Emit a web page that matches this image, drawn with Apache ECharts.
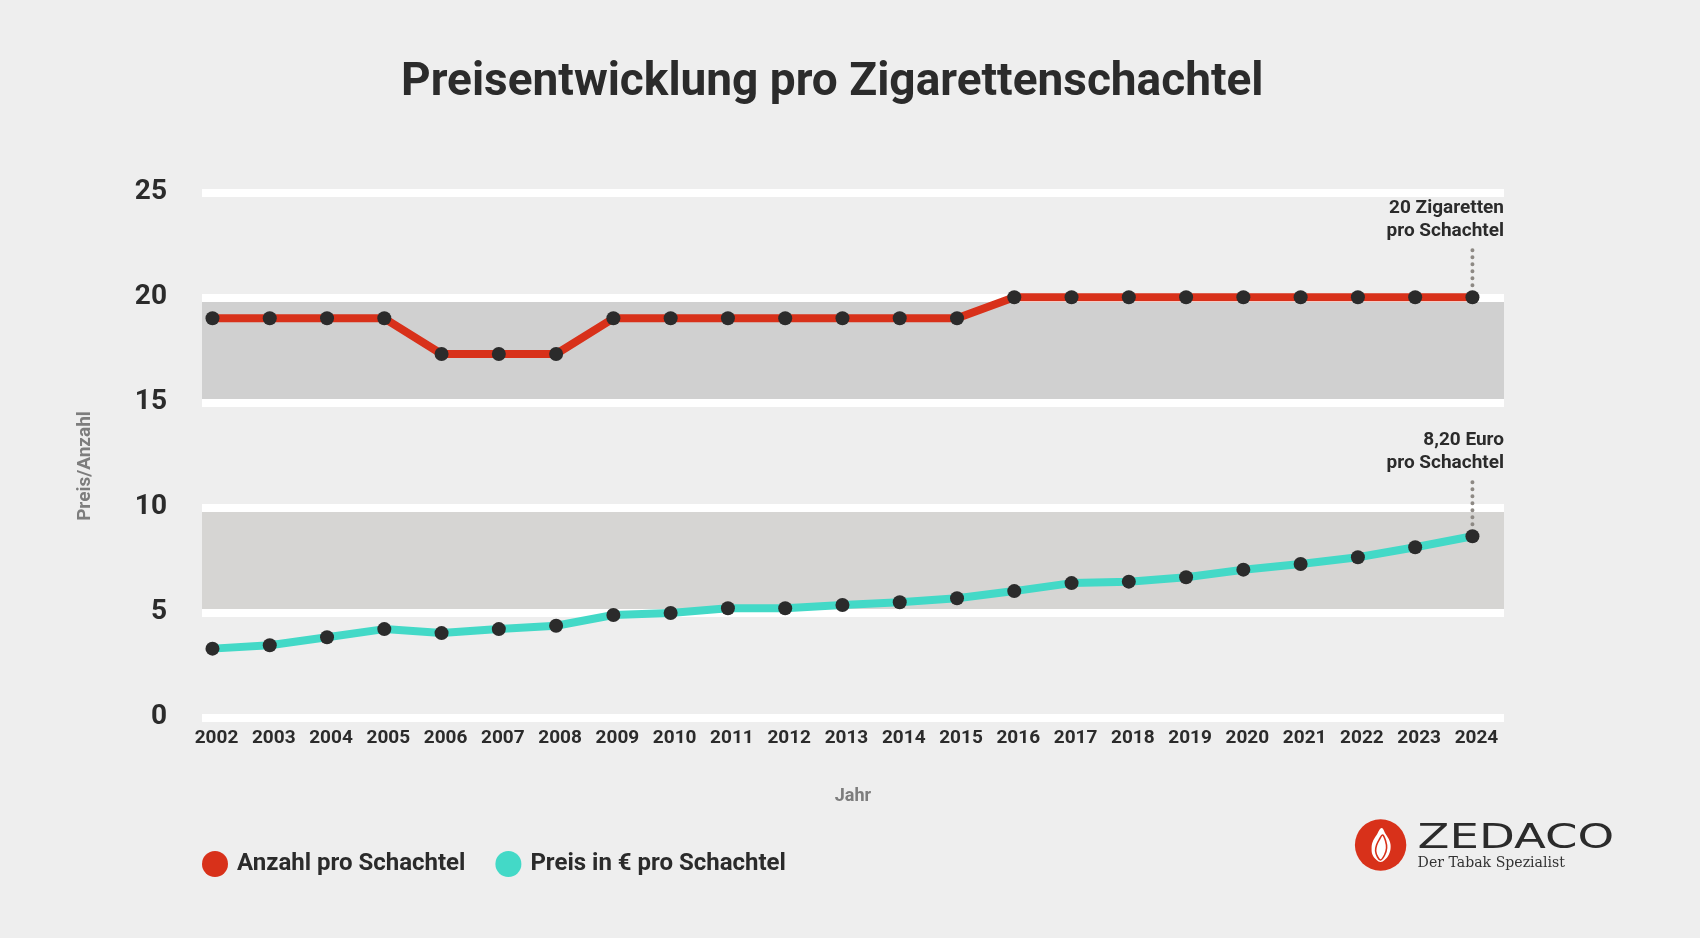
<!DOCTYPE html>
<html>
<head>
<meta charset="utf-8">
<script src="https://cdn.jsdelivr.net/npm/echarts@6/dist/echarts.min.js"></script>
<style>
  html, body { margin: 0; padding: 0; background: #eeeeee; }
  #chart { width: 1700px; height: 938px; }
</style>
</head>
<body>
<div id="chart"></div>
<script>
// ---- data ----
const years = [2002, 2003, 2004, 2005, 2006, 2007, 2008, 2009, 2010, 2011, 2012, 2013,
               2014, 2015, 2016, 2017, 2018, 2019, 2020, 2021, 2022, 2023, 2024];
const countPerPack = [19, 19, 19, 19, 17.3, 17.3, 17.3, 19, 19, 19, 19, 19,
                      19, 19, 20, 20, 20, 20, 20, 20, 20, 20, 20];
const pricePerPack = [3.27, 3.43, 3.81, 4.20, 4.01, 4.20, 4.36, 4.87, 4.97, 5.19, 5.19, 5.35,
                      5.48, 5.67, 6.01, 6.39, 6.46, 6.67, 7.03, 7.30, 7.62, 8.10, 8.62];
const yTicks = [0, 5, 10, 15, 20, 25];
const seriesNames = ['Anzahl pro Schachtel', 'Preis in € pro Schachtel'];
const annotations = ['20 Zigaretten\npro Schachtel', '8,20 Euro\npro Schachtel'];
const titleText = 'Preisentwicklung pro Zigarettenschachtel';

const RED = '#d8311a';
const TEAL = '#43d9c7';
const DOT = '#2b2b2b';
const FONT = 'Roboto, "Noto Sans", sans-serif';

const chart = echarts.init(document.getElementById('chart'));

const option = {
  backgroundColor: '#eeeeee',
  animation: false,
  title: {
    text: titleText,
    left: 396,
    top: 55,
    textStyle: { fontFamily: FONT, fontSize: 46, fontWeight: 'bold', color: '#2b2b2b' }
  },
  grid: { left: 202, right: 196, top: 192.3, bottom: 220.7, containLabel: false },
  legend: {
    left: 197,
    top: 846,
    icon: 'circle',
    itemWidth: 26,
    itemHeight: 26,
    itemGap: 30,
    textStyle: { fontFamily: FONT, fontSize: 24, fontWeight: 'bold', color: '#2b2b2b', padding: [0, 0, 0, 4] },
    data: [
      { name: seriesNames[0], itemStyle: { color: RED } },
      { name: seriesNames[1], itemStyle: { color: TEAL } }
    ]
  },
  xAxis: {
    type: 'value',
    min: 2001.817,
    max: 2024.551,
    name: 'Jahr',
    nameLocation: 'middle',
    nameGap: 70,
    nameTextStyle: { fontFamily: FONT, fontSize: 18, fontWeight: 'bold', color: '#7d7d7d' },
    axisLine: { show: false },
    axisTick: { show: false },
    splitLine: { show: false },
    axisLabel: {
      customValues: years,
      formatter: v => String(Math.round(v)),
      margin: 11,
      padding: [0, 0, 0, 8],
      fontFamily: FONT, fontSize: 19, fontWeight: 'bold', color: '#2b2b2b'
    }
  },
  yAxis: {
    type: 'value',
    min: yTicks[0],
    max: yTicks[yTicks.length - 1],
    interval: yTicks[1] - yTicks[0],
    axisLine: { show: false },
    axisTick: { show: false },
    axisLabel: { margin: 35, fontFamily: FONT, fontSize: 28, fontWeight: 'bold', color: '#2b2b2b' },
    splitLine: { show: true, lineStyle: { color: '#ffffff', width: 8 } },
    splitArea: {
      show: true,
      areaStyle: { color: ['rgba(0,0,0,0)', '#d6d5d3', 'rgba(0,0,0,0)', '#d0d0d0', 'rgba(0,0,0,0)'] }
    }
  },
  series: [
    {
      name: seriesNames[0],
      type: 'line',
      data: years.map((y, i) => [y, countPerPack[i]]),
      symbol: 'circle',
      symbolSize: 14,
      itemStyle: { color: DOT },
      lineStyle: { color: RED, width: 8 },
      emphasis: { disabled: true },
      z: 3
    },
    {
      name: seriesNames[1],
      type: 'line',
      data: years.map((y, i) => [y, pricePerPack[i]]),
      symbol: 'circle',
      symbolSize: 14,
      itemStyle: { color: DOT },
      lineStyle: { color: TEAL, width: 8 },
      emphasis: { disabled: true },
      z: 3
    }
  ],
  graphic: [
    {
      type: 'text',
      x: 85, y: 466,
      rotation: Math.PI / 2,
      style: {
        text: 'Preis/Anzahl', fontFamily: FONT, fontSize: 19, fontWeight: 'bold',
        fill: '#7d7d7d', align: 'center', verticalAlign: 'middle'
      }
    }
  ]
};
chart.setOption(option);

// annotations anchored on the last point of each series, via the chart's own scales
const lastIdx = years.length - 1;
const gridRight = 1700 - 196;
const dotLens = [37, 44];
const annGraphics = [];
[countPerPack, pricePerPack].forEach((arr, s) => {
  const p = chart.convertToPixel({ seriesIndex: s }, [years[lastIdx], arr[lastIdx]]);
  const y0 = p[1] - 12;
  const y1 = y0 - dotLens[s];
  annGraphics.push({
    type: 'line',
    shape: { x1: p[0], y1: y0, x2: p[0], y2: y1 },
    style: { stroke: '#8d8984', lineWidth: 4, lineDash: [0.1, 6.9], lineCap: 'round' },
    z: 10
  });
  annGraphics.push({
    type: 'text',
    x: gridRight, y: y1 - 6,
    style: {
      text: annotations[s], fontFamily: FONT, fontSize: 19, fontWeight: 'bold',
      fill: '#2b2b2b', align: 'right', verticalAlign: 'bottom', lineHeight: 23
    },
    z: 10
  });
});

// ZEDACO logo
annGraphics.push({
  type: 'group',
  x: 1380.6, y: 845,
  children: [
    { type: 'circle', shape: { cx: 0, cy: 0, r: 25.7 }, style: { fill: RED } },
    { type: 'polygon',
      shape: { points: [[1, -17], [5, -11], [9, -4], [10, 3], [8, 10], [4, 15], [0, 17], [-4, 15], [-8, 10], [-9, 4], [-8, -3], [-4, -10]], smooth: 0.4 },
      style: { fill: '#ffffff' } },
    { type: 'polygon',
      shape: { points: [[2, -10], [5, -4], [6, 3], [4, 10], [0, 15], [-3, 12], [-5, 6], [-4, 0], [-1, -6]], smooth: 0.4 },
      style: { fill: '#ffffff', stroke: RED, lineWidth: 1.6 } }
  ]
});
annGraphics.push({
  type: 'group',
  x: 1417.6, y: 839.5,
  scaleX: 1.37,
  children: [
    { type: 'text', x: 0, y: 0,
      style: { text: 'ZEDACO', fontFamily: '"DejaVu Sans", sans-serif', fontSize: 34,
               fill: '#2b2b2b', align: 'left', verticalAlign: 'middle' } }
  ]
});
annGraphics.push({
  type: 'group',
  x: 1417.6, y: 863,
  scaleX: 0.94,
  children: [
    { type: 'text', x: 0, y: 0,
      style: { text: 'Der Tabak Spezialist', fontFamily: '"DejaVu Serif", serif', fontSize: 15,
               fill: '#333333', align: 'left', verticalAlign: 'middle' } }
  ]
});

chart.setOption({ graphic: option.graphic.concat(annGraphics) });
</script>
</body>
</html>
